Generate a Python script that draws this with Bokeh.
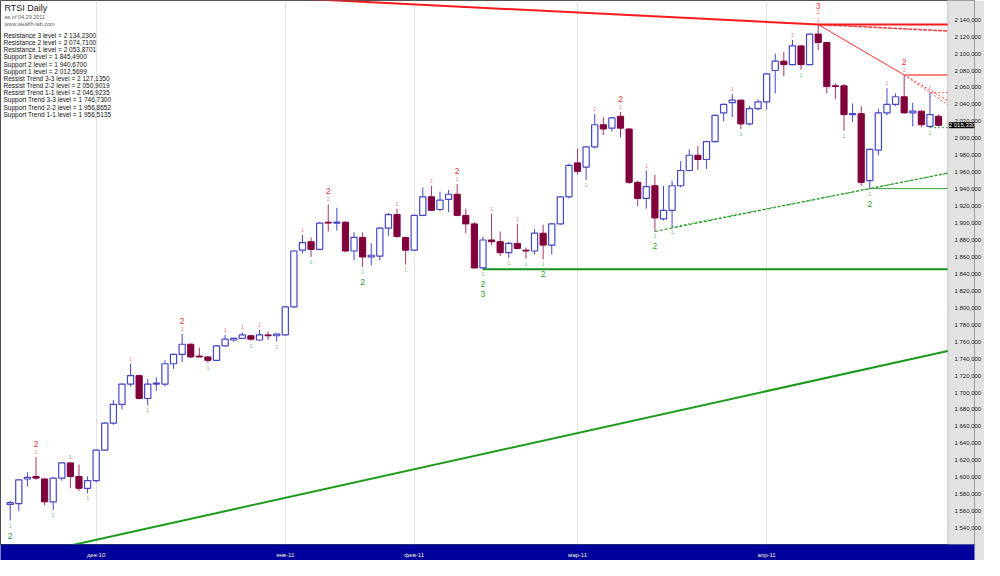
import numpy as np
from bokeh.plotting import figure
from bokeh.models import ColumnDataSource, FixedTicker, Label, Range1d, BoxAnnotation
from bokeh.embed import file_html
from bokeh.resources import INLINE
from bokeh.core.properties import value

# ---------------- data ----------------
opens = [1568, 1569, 1598, 1601, 1598, 1571, 1599, 1617, 1601, 1587,
         1596, 1632, 1664, 1686, 1710, 1720, 1693, 1710, 1710, 1734,
         1745, 1757, 1743, 1742, 1738, 1755, 1762, 1764, 1767, 1762,
         1768, 1767, 1768, 1801, 1868, 1878, 1869, 1901, 1900, 1901,
         1867, 1883, 1860, 1861, 1894, 1910, 1883, 1868, 1909, 1931,
         1916, 1928, 1934, 1909, 1899, 1847, 1880, 1878, 1865, 1876,
         1868, 1867, 1888, 1874, 1899, 1931, 1971, 1966, 1990, 2016,
         2012, 2026, 2011, 1948, 1929, 1944, 1905, 1915, 1944, 1962,
         1980, 1975, 1996, 2030, 2042, 2045, 2017, 2035, 2043, 2080,
         2091, 2087, 2109, 2087, 2123, 2113, 2062, 2062, 2028, 2029,
         1950, 1986, 2030, 2040, 2049, 2030, 2032, 2014, 2026]
highs = [1572, 1598, 1606, 1624, 1599, 1600, 1618, 1618, 1615, 1601,
         1633, 1665, 1691, 1711, 1734, 1721, 1716, 1718, 1738, 1746,
         1769, 1758, 1753, 1743, 1756, 1768, 1765, 1771, 1768, 1774,
         1772, 1770, 1802, 1868, 1886, 1883, 1901, 1922, 1918, 1902,
         1889, 1889, 1876, 1895, 1912, 1917, 1884, 1910, 1942, 1944,
         1937, 1939, 1946, 1917, 1901, 1884, 1911, 1890, 1878, 1899,
         1871, 1893, 1898, 1900, 1932, 1970, 1988, 1991, 2029, 2025,
         2025, 2031, 2012, 1950, 1962, 1957, 1944, 1950, 1973, 1987,
         1991, 1997, 2028, 2041, 2052, 2046, 2038, 2046, 2077, 2100,
         2102, 2116, 2110, 2124, 2134.23, 2114, 2065, 2064, 2041, 2038,
         1988, 2035, 2059, 2053, 2074.71, 2042, 2033, 2053.87, 2028]
lows = [1549, 1560, 1589, 1597, 1567, 1561, 1596, 1587, 1584, 1581,
        1594, 1631, 1662, 1680, 1707, 1692, 1685, 1702, 1707, 1728,
        1736, 1741, 1742, 1735, 1737, 1754, 1760, 1763, 1761, 1761,
        1762, 1760, 1767, 1800, 1864, 1860, 1868, 1890, 1891, 1866,
        1856, 1848, 1850, 1856, 1885, 1883, 1851, 1867, 1908, 1914,
        1914, 1913, 1908, 1888, 1846.5, 1845.49, 1874, 1861, 1859, 1869,
        1858, 1863, 1857, 1863, 1898, 1929, 1957, 1951, 1988, 2004,
        2008, 2001, 1946, 1920, 1917, 1890.06, 1903, 1895.12, 1942, 1961,
        1963, 1964, 1995, 2020, 2025, 2011, 2015, 2033, 2034, 2053,
        2073, 2086, 2081, 2086, 2104, 2053, 2046, 2009, 2019, 1944,
        1940.67, 1980, 2027, 2038, 2029, 2014, 2013, 2012.57, 2014]
closes = [1570, 1597, 1600, 1599, 1571, 1599, 1617, 1601, 1587, 1596,
          1632, 1664, 1686, 1710, 1720, 1693, 1710, 1711, 1734, 1745,
          1757, 1742, 1742, 1738, 1755, 1763, 1764, 1768, 1763, 1768,
          1767, 1769, 1801, 1867, 1877, 1869, 1900, 1900, 1901, 1867,
          1883, 1860, 1862, 1894, 1910, 1884, 1868, 1909, 1931, 1915,
          1927, 1934, 1909, 1899, 1847, 1880, 1878, 1865, 1876, 1870,
          1867, 1888, 1874, 1899, 1931, 1968, 1961, 1990, 2016, 2011,
          2024, 2012, 1948, 1929, 1943, 1906, 1915, 1944, 1962, 1980,
          1975, 1996, 2027, 2040, 2045, 2017, 2035, 2043, 2076, 2091,
          2087, 2109, 2087, 2123, 2113, 2061, 2061, 2028, 2029, 1948,
          1987, 2030, 2040, 2049, 2030, 2032, 2016, 2028, 2015.33]

month_idx = [10, 32, 47, 66, 88]
month_labels = ["дек-10", "янв-11", "фев-11", "мар-11", "апр-11"]

y_tick_values = list(range(1540, 2141, 20))

level_names = ["Resistance 3", "Resistance 2", "Resistance 1",
               "Support 3", "Support 2", "Support 1",
               "Ressist Trend 3-3", "Ressist Trend 2-2", "Ressist Trend 1-1",
               "Support Trend 3-3", "Support Trend 2-2", "Support Trend 1-1"]
level_values = [2134.2300, 2074.7100, 2053.8701, 1845.4900, 1940.6700, 2012.5699,
                2127.1350, 2050.9019, 2046.9235, 1746.7300, 1956.8652, 1956.5135]

# pivot bars (index) and their swing level
hi_pivot_idx = [3, 7, 14, 20, 25, 27, 29, 34, 37, 45, 49, 52, 56, 59, 68, 71, 74, 84, 91, 94, 102, 104, 107]
hi_pivot_lvl = [2, 1, 1, 2, 1, 1, 1, 1, 2, 1, 1, 2, 1, 1, 1, 2, 1, 1, 1, 3, 1, 2, 1]
lo_pivot_idx = [0, 5, 9, 16, 23, 28, 31, 35, 41, 46, 55, 58, 60, 62, 67, 75, 77, 85, 92, 97, 100, 107]
lo_pivot_lvl = [2, 1, 1, 1, 1, 1, 1, 1, 2, 1, 3, 1, 1, 2, 1, 2, 1, 1, 1, 1, 2, 1]

# horizontal level lines start at the pivot bar that defines them
hline_start = [94, 104, 107, 55, 100, 107]          # R3 R2 R1 S3 S2 S1
# trend lines: two anchor bars / values each
trend_bars = {"RT33": [94, 108], "RT22": [94, 104], "RT11": [104, 107],
              "ST33": [9, 108], "ST22": [75, 100], "ST11": [77, 100]}
trend_vals = {"RT33": [2134.23, 2127.135], "RT22": [2134.23, 2074.71], "RT11": [2074.71, 2053.87],
              "ST33": [1524.0, 1746.73], "ST22": [1890.06, 1940.67], "ST11": [1895.12, 1940.67]}

# ---------------- figure ----------------
N = len(opens)
idx = list(range(N))
X0, X1 = -1.13, 109.07          # chart area (candles) in bar units
XE = X0 + (X1 - X0) * 983.0 / 956.0   # frame also holds the price-scale strip
Y0, Y1 = 1520.7, 2162.6

p = figure(width=984, height=560, output_backend="svg", toolbar_location=None,
           x_range=Range1d(X0, XE), y_range=Range1d(Y0, Y1),
           y_axis_location="right", min_border_left=0, min_border_top=0,
           min_border_right=0, min_border_bottom=0)
p.background_fill_color = "white"
p.border_fill_color = "#e2e2e2"
p.outline_line_color = "#505050"
p.outline_line_width = 1

# grey price-scale strip
p.add_layout(BoxAnnotation(left=X1, fill_color="#e2e2e2", fill_alpha=1.0,
                           line_color="#c8c8c8", line_alpha=1.0, level="underlay"))

# axes
xa = p.xaxis[0]
xa.ticker = FixedTicker(ticks=month_idx)
xa.major_label_overrides = {i: s for i, s in zip(month_idx, month_labels)}
xa.major_label_text_font = "Liberation Sans"
xa.major_label_text_font_size = "6px"
xa.major_label_text_color = "#f4f4d8"
xa.major_label_standoff = 1
xa.axis_line_color = None
xa.major_tick_line_color = None
xa.minor_tick_line_color = None
if "background_fill_color" in xa.properties():
    xa.background_fill_color = "#00009c"

ya = p.yaxis[0]
ya.ticker = FixedTicker(ticks=y_tick_values)
ya.major_label_overrides = {v: (f"{v:,.3f}".replace(",", " ").replace(".", ",")) for v in y_tick_values}
ya.major_label_text_font = "Liberation Sans"
ya.major_label_text_font_size = "6px"
ya.major_label_text_color = "#202020"
ya.major_label_standoff = -26
ya.axis_line_color = None
ya.major_tick_line_color = None
ya.minor_tick_line_color = None

p.xgrid.ticker = FixedTicker(ticks=month_idx)
p.xgrid.grid_line_color = "#e4e4e4"
p.ygrid.visible = False

# ---------------- level / trend lines ----------------
def trend_line(key, b_from, b_to):
    b = trend_bars[key]; v = trend_vals[key]
    s = (v[1] - v[0]) / (b[1] - b[0])
    return [b_from, b_to], [v[0] + (b_from - b[0]) * s, v[0] + (b_to - b[0]) * s]

R3, R2, R1, S3, S2, S1 = level_values[:6]

# support trend 3-3 (thick green)
xs, ys = trend_line("ST33", 5, X1)
p.line(xs, ys, line_color="#1c9a1c", line_width=2)
# support trend 2-2 and 1-1 (dashed green)
xs, ys = trend_line("ST22", 75, X1)
p.line(xs, ys, line_color="#2aa02a", line_width=1.2, line_dash="3 2")
xs, ys = trend_line("ST11", 77, X1)
p.line(xs, ys, line_color="#2aa02a", line_width=1, line_dash="2 2")

# resistance trend 3-3 (thick red)
xs, ys = trend_line("RT33", 30, 94)
p.line(xs, ys, line_color="#ff1a1a", line_width=2)
xs, ys = trend_line("RT33", 94, X1)
p.line(xs, ys, line_color="#ff3a3a", line_width=1.5, line_dash="4 1")
# resistance trend 2-2
xs, ys = trend_line("RT22", 94, 104)
p.line(xs, ys, line_color="#ff3030", line_width=1)
xs, ys = trend_line("RT22", 104, X1)
p.line(xs, ys, line_color="#ff3030", line_width=1, line_dash="2 2")
# resistance trend 1-1
xs, ys = trend_line("RT11", 104, X1)
p.line(xs, ys, line_color="#ff5050", line_width=1, line_dash="2 2")

# horizontal levels
p.line([hline_start[0], X1], [R3, R3], line_color="#ff1a1a", line_width=2)
p.line([hline_start[1], X1], [R2, R2], line_color="#ff8080", line_width=2)
p.line([hline_start[2], X1], [R1, R1], line_color="#ff6060", line_width=1, line_dash="2 2")
p.line([hline_start[3], X1], [S3, S3], line_color="#12921a", line_width=2)
p.line([hline_start[4], X1], [S2, S2], line_color="#3aa83a", line_width=1)
p.line([hline_start[5], X1], [S1, S1], line_color="#3aa83a", line_width=1, line_dash="2 2")

# ---------------- candles ----------------
o = np.array(opens, float); c = np.array(closes, float)
h = np.array(highs, float); l = np.array(lows, float)
up = c >= o
ix = np.array(idx)
src_up = ColumnDataSource(dict(x=ix[up], h=h[up], l=l[up],
                               top=np.maximum(o, c)[up], bot=np.minimum(o, c)[up]))
src_dn = ColumnDataSource(dict(x=ix[~up], h=h[~up], l=l[~up],
                               top=np.maximum(o, c)[~up], bot=np.minimum(o, c)[~up]))

p.segment(x0="x", y0="h", x1="x", y1="l", source=src_dn, line_color="#a0386a", line_width=1)
p.vbar(x="x", top="top", bottom="bot", width=0.72, source=src_dn,
       fill_color="#80003c", line_color="#80003c", line_width=1)
p.segment(x0="x", y0="h", x1="x", y1="l", source=src_up, line_color="#4646c8", line_width=1)
p.vbar(x="x", top="top", bottom="bot", width=0.72, source=src_up,
       fill_color="white", line_color="#4646c8", line_width=1.2)

# ---------------- pivot labels ----------------
hi_off = {1: -5, 2: -13, 3: -19}
lo_off = {1: 5, 2: 15, 3: 25}
small = dict(x=[], y=[], t=[], off=[], col=[])
big = dict(x=[], y=[], t=[], off=[], col=[])
for i, lv in zip(hi_pivot_idx, hi_pivot_lvl):
    for k in range(1, lv + 1):
        is_big = (k == lv and k >= 2)
        d = big if is_big else small
        d["x"].append(i); d["y"].append(highs[i]); d["t"].append(str(k))
        d["off"].append(hi_off[k]); d["col"].append("#f23a3a" if is_big else "#f08c8c")
for i, lv in zip(lo_pivot_idx, lo_pivot_lvl):
    for k in range(1, lv + 1):
        is_big = k >= 2
        d = big if is_big else small
        d["x"].append(i); d["y"].append(lows[i]); d["t"].append(str(k))
        d["off"].append(lo_off[k]); d["col"].append("#2e9e2e" if is_big else "#86c486")

p.text(x="x", y="y", text="t", y_offset="off", text_color="col", source=ColumnDataSource(small),
       text_font=value("Liberation Sans"), text_font_size="6px",
       text_align="center", text_baseline="middle")
p.text(x="x", y="y", text="t", y_offset="off", text_color="col", source=ColumnDataSource(big),
       text_font=value("Liberation Sans"), text_font_size="8.5px",
       text_align="center", text_baseline="middle")

# ---------------- header ----------------
def fmt(v, d):
    return f"{v:,.{d}f}".replace(",", " ").replace(".", ",")

p.add_layout(Label(x=X0, y=Y1, x_offset=4, y_offset=-2, text="RTSI Daily",
                   text_font="Liberation Sans", text_font_size="9px",
                   text_color="#202020", text_baseline="top"))
p.add_layout(Label(x=X0, y=Y1, x_offset=4, y_offset=-13, text="as of 04.29.2011",
                   text_font="Liberation Sans", text_font_size="5.5px",
                   text_color="#606060", text_baseline="top"))
p.add_layout(Label(x=X0, y=Y1, x_offset=4, y_offset=-20, text="www.wealth-lab.com",
                   text_font="Liberation Sans", text_font_size="5.5px",
                   text_color="#606060", text_baseline="top"))
for k, (n, v) in enumerate(zip(level_names, level_values)):
    p.add_layout(Label(x=X0, y=Y1, x_offset=3, y_offset=-(31.5 + 7.15 * k),
                       text=f"{n} level = {fmt(v, 4)}",
                       text_font="Liberation Sans", text_font_size="6.5px",
                       text_color="#101010", text_baseline="top"))

# last price tag on the price scale
p.add_layout(Label(x=X1, y=closes[-1], x_offset=1, text=fmt(closes[-1], 3),
                   text_font="Liberation Sans", text_font_size="6px",
                   text_color="white", text_baseline="middle",
                   background_fill_color="black", background_fill_alpha=1.0))

open("out.html", "w").write(file_html(p, INLINE))
